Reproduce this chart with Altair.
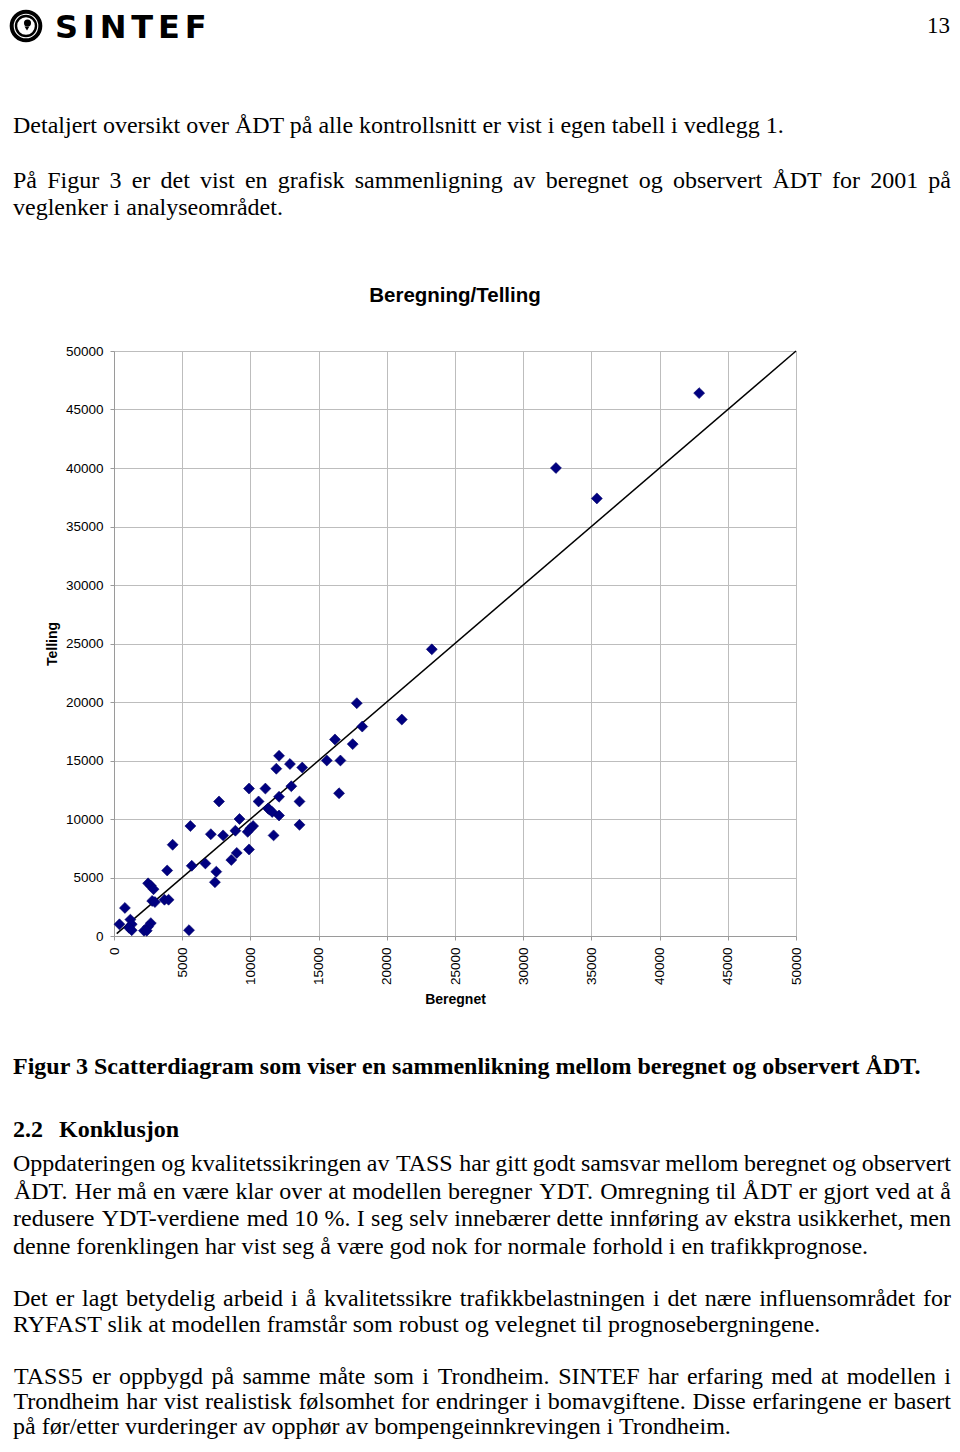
import altair as alt
import pandas as pd

# ---------------- data ----------------
beregnet = [42900, 32400, 35400, 23300, 17800, 21100, 18200, 16200, 17500, 15600,
            16600, 16500, 12100, 12900, 13800, 11900, 13000, 9900, 11100, 12100,
            10600, 7700, 13600, 11300, 11400, 11600, 12100, 9200, 10200, 10000,
            9800, 13600, 5600, 7100, 8000, 8900, 11700, 4300, 9900, 9000,
            8600, 6700, 5700, 7500, 7400, 3900, 2500, 2700, 2900, 2800,
            3000, 3700, 4000, 800, 400, 1200, 1300, 1100, 1300, 2700,
            2500, 2200, 2400, 5500]
telling = [46400, 40000, 37400, 24500, 19900, 18500, 17900, 16800, 16400, 15000,
           15000, 12200, 15400, 14700, 14400, 14300, 12800, 12600, 12600, 11900,
           11500, 11500, 11500, 10900, 10800, 10600, 10300, 10000, 9400, 9200,
           8900, 9500, 9400, 8700, 8600, 9000, 8600, 7800, 7400, 7100,
           6500, 6200, 6000, 5500, 4600, 5600, 4500, 4300, 4000, 3000,
           2900, 3100, 3100, 2400, 1000, 1400, 1000, 700, 500, 1100,
           800, 450, 450, 500]
diag_x = [200, 50000]
diag_y = [200, 50000]
tick_values = [0, 5000, 10000, 15000, 20000, 25000, 30000, 35000, 40000, 45000, 50000]

chart_title = "Beregning/Telling"
x_title = "Beregnet"
y_title = "Telling"

page_number = "13"
logo_text = "SINTEF"
intro_line = "Detaljert oversikt over ÅDT på alle kontrollsnitt er vist i egen tabell i vedlegg 1."
para1_just = ["På Figur 3 er det vist en grafisk sammenligning av beregnet og observert ÅDT for 2001 på"]
para1_last = "veglenker i analyseområdet."
caption = "Figur 3 Scatterdiagram som viser en sammenlikning mellom beregnet og observert ÅDT."
heading_num = "2.2"
heading_txt = "Konklusjon"
para2_just = ["Oppdateringen og kvalitetssikringen av TASS har gitt godt samsvar mellom beregnet og observert",
              "ÅDT. Her må en være klar over at modellen beregner YDT. Omregning til ÅDT er gjort ved at å",
              "redusere YDT-verdiene med 10 %. I seg selv innebærer dette innføring av ekstra usikkerhet, men"]
para2_last = "denne forenklingen har vist seg å være god nok for normale forhold i en trafikkprognose."
para3_just = ["Det er lagt betydelig arbeid i å kvalitetssikre trafikkbelastningen i det nære influensområdet for"]
para3_last = "RYFAST slik at modellen framstår som robust og velegnet til prognosebergningene."
para4_just = ["TASS5 er oppbygd på samme måte som i Trondheim. SINTEF har erfaring med at modellen i",
              "Trondheim har vist realistisk følsomhet for endringer i bomavgiftene. Disse erfaringene er basert"]
para4_last = "på før/etter vurderinger av opphør av bompengeinnkrevingen i Trondheim."

# ---------------- layout ----------------
OX, OY = 114, 351          # page position of plot origin
PW, PH = 682, 585
FS = 24
SERIF = "Liberation Serif"
SANS = "Liberation Sans"
RIGHT = 951

TIMES = {' ': 250, '%': 833, ',': 250, '-': 333, '.': 250, '/': 278,
         'A': 722, 'B': 667, 'C': 667, 'D': 722, 'E': 611, 'F': 556, 'G': 722, 'H': 722,
         'I': 333, 'J': 389, 'K': 722, 'L': 611, 'M': 889, 'N': 722, 'O': 722, 'P': 556,
         'Q': 722, 'R': 667, 'S': 556, 'T': 611, 'U': 722, 'V': 722, 'W': 944, 'X': 722,
         'Y': 722, 'Z': 611, 'a': 444, 'b': 500, 'c': 444, 'd': 500, 'e': 444, 'f': 333,
         'g': 500, 'h': 500, 'i': 278, 'j': 278, 'k': 500, 'l': 278, 'm': 778, 'n': 500,
         'o': 500, 'p': 500, 'q': 500, 'r': 333, 's': 389, 't': 278, 'u': 500, 'v': 500,
         'w': 722, 'x': 500, 'y': 500, 'z': 444, 'æ': 667, 'ø': 500, 'å': 444, 'Å': 722}


def tw(s, fs=FS):
    return sum(TIMES.get(c, 500) for c in s) * fs / 1000.0


def justify(line, y, left=13, right=RIGHT):
    words = line.split(' ')
    widths = [tw(w) for w in words]
    gap = (right - left - sum(widths)) / (len(words) - 1)
    x = left
    rows = []
    for w, wd in zip(words, widths):
        rows.append({'px': x + wd / 2 - OX, 'py': y - OY, 'text': w})
        x += wd + gap
    return rows


just_rows = []
just_rows += justify(para1_just[0], 187.5)
for line, y in zip(para2_just, [1171, 1198.5, 1226]):
    just_rows += justify(line, y)
just_rows += justify(para3_just[0], 1306)
for line, y in zip(para4_just, [1384, 1409]):
    just_rows += justify(line, y)

left_rows = [
    {'px': 13 - OX, 'py': 133 - OY, 'text': intro_line},
    {'px': 13 - OX, 'py': 214.5 - OY, 'text': para1_last},
    {'px': 13 - OX, 'py': 1253.5 - OY, 'text': para2_last},
    {'px': 13 - OX, 'py': 1332 - OY, 'text': para3_last},
    {'px': 13 - OX, 'py': 1434 - OY, 'text': para4_last},
]
bold_rows = [
    {'px': 13 - OX, 'py': 1073.5 - OY, 'text': caption},
    {'px': 13 - OX, 'py': 1136.5 - OY, 'text': heading_num},
    {'px': 59 - OX, 'py': 1136.5 - OY, 'text': heading_txt},
]

# SINTEF logo letters spread across the reference width
LOGO_FS = 32
DJB = {'S': 0.720, 'I': 0.372, 'N': 0.837, 'T': 0.682, 'E': 0.683, 'F': 0.683}
adv = [DJB[c] * LOGO_FS for c in logo_text]
lgap = (205 + 1.5 - 55 - sum(adv)) / (len(adv) - 1)
logo_rows = []
lx = 55
for c, a in zip(logo_text, adv):
    logo_rows.append({'px': lx + a / 2 - OX, 'py': 38 - OY, 'text': c})
    lx += a + lgap

df = pd.DataFrame({'Beregnet': beregnet, 'Telling': telling})
diag = pd.DataFrame({'Beregnet': diag_x, 'Telling': diag_y})

xscale = alt.Scale(domain=[0, 50000], nice=False, zero=True)
yscale = alt.Scale(domain=[0, 50000], nice=False, zero=True)

x_axis = alt.Axis(values=tick_values, format='d', title=x_title, labelAngle=270, labelAlign='right',
                  labelBaseline='middle', labelPadding=7, tickSize=4, titlePadding=8,
                  labelFont=SANS, labelFontSize=13.5, labelColor='black',
                  titleFont=SANS, titleFontSize=14, titleFontWeight='bold', titleColor='black',
                  gridColor='#bdbdbd', domainColor='#9a9a9a', tickColor='#9a9a9a', labelFlush=False)
y_axis = alt.Axis(values=tick_values, format='d', title=y_title, labelPadding=7, tickSize=4, titlePadding=6,
                  labelFont=SANS, labelFontSize=13.5, labelColor='black',
                  titleFont=SANS, titleFontSize=14, titleFontWeight='bold', titleColor='black',
                  gridColor='#bdbdbd', domainColor='#9a9a9a', tickColor='#9a9a9a', labelFlush=False)

line = alt.Chart(diag).mark_line(color='black', strokeWidth=1.5).encode(
    x=alt.X('Beregnet:Q', scale=xscale, axis=x_axis),
    y=alt.Y('Telling:Q', scale=yscale, axis=y_axis),
)
points = alt.Chart(df).mark_point(shape='diamond', filled=True, size=120, color='#000080',
                                  opacity=1, stroke='#000066', strokeWidth=0.6).encode(
    x=alt.X('Beregnet:Q', scale=xscale, axis=x_axis),
    y=alt.Y('Telling:Q', scale=yscale, axis=y_axis),
)
scatter = alt.layer(line, points)


def text_layer(rows, **kw):
    return alt.Chart(pd.DataFrame(rows)).mark_text(**kw).encode(
        x=alt.X('px:Q', scale=None, axis=None),
        y=alt.Y('py:Q', scale=None, axis=None),
        text='text:N',
    )


just_layer = text_layer(just_rows, font=SERIF, fontSize=FS, align='center', baseline='alphabetic', color='black')
left_layer = text_layer(left_rows, font=SERIF, fontSize=FS, align='left', baseline='alphabetic', color='black')
bold_layer = text_layer(bold_rows, font=SERIF, fontSize=FS, fontWeight='bold', align='left',
                        baseline='alphabetic', color='black')
title_layer = text_layer([{'px': 455 - OX, 'py': 302 - OY, 'text': chart_title}], font=SANS, fontSize=20.5,
                         fontWeight='bold', align='center', baseline='alphabetic', color='black')
pagenum_layer = text_layer([{'px': 950 - OX, 'py': 33 - OY, 'text': page_number}], font=SERIF, fontSize=23,
                           align='right', baseline='alphabetic', color='black')
logo_layer = text_layer(logo_rows, font='DejaVu Sans', fontSize=LOGO_FS,
                        fontWeight='bold', align='center', baseline='alphabetic', color='black')

CX, CY = 26, 26
ring_outer = alt.Chart(pd.DataFrame({'k': [0]})).mark_point(shape='circle', filled=False, size=820,
                                                              color='black', strokeWidth=4, opacity=1).encode(
    x=alt.value(CX - OX), y=alt.value(CY - OY))
ring_inner = alt.Chart(pd.DataFrame({'k': [0]})).mark_point(shape='circle', filled=False, size=400,
                                                              color='black', strokeWidth=2.4, opacity=1).encode(
    x=alt.value(CX - OX), y=alt.value(CY - OY))
blob = alt.Chart(pd.DataFrame({'k': [0]})).mark_point(shape='circle', filled=True, size=50,
                                                        color='black', opacity=1).encode(
    x=alt.value(CX + 1.5 - OX), y=alt.value(CY - 3 - OY))
tail = alt.Chart(pd.DataFrame({'k': [0]})).mark_point(shape='triangle-down', filled=True, size=24,
                                                        color='black', opacity=1).encode(
    x=alt.value(CX + 1 - OX), y=alt.value(CY + 2.5 - OY))

chart = alt.layer(
    scatter, title_layer, just_layer, left_layer, bold_layer, pagenum_layer, logo_layer,
    ring_outer, ring_inner, blob, tail,
).resolve_scale(x='independent', y='independent').properties(
    width=PW, height=PH,
    autosize=alt.AutoSizeParams(type='none'),
    padding={'left': 106, 'top': 343, 'right': 156, 'bottom': 504},
    background='white',
).configure_view(strokeWidth=0)

chart.save("out.html", embed_options={"renderer": "svg", "actions": False})
